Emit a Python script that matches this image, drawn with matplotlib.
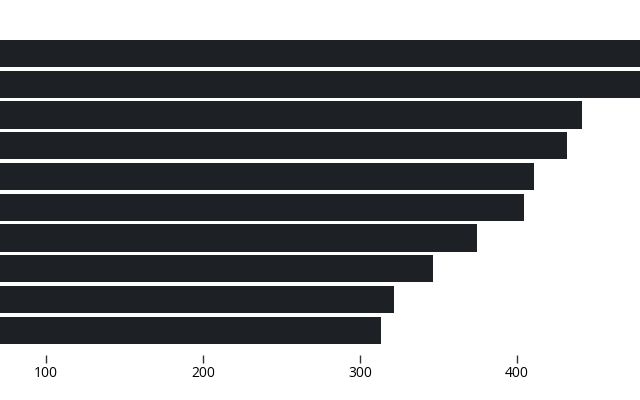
import matplotlib
matplotlib.use("Agg")
import matplotlib.pyplot as plt

categories = ["A", "B", "C", "D", "E", "F", "G", "H", "I", "J"]
values = [500, 490, 441.5, 431.5, 410.5, 404.5, 374.5, 346.5, 321.5, 313.5]
tick_values = [100, 200, 300, 400]
tick_labels = ["100", "200", "300", "400"]

plt.rcParams['font.family'] = ['Open Sans', 'DejaVu Sans']

fig = plt.figure(figsize=(6.4, 4.0), dpi=100)
ax = fig.add_axes([0, 0.1358, 1, 0.769])

ypos = list(range(len(categories)))
ax.barh(ypos, values, height=0.885, color='#1d2025', edgecolor='none')
ax.set_ylim(len(categories) - 0.5, -0.5)
ax.set_xlim(70.7, 478.3)

ax.set_yticks([])
ax.set_xticks(tick_values)
ax.set_xticklabels(tick_labels, fontsize=10, color='#222222')
ax.tick_params(axis='x', length=6, width=1, color='#333333', pad=1.5, direction='out')
for s in ['top', 'right', 'left']:
    ax.spines[s].set_visible(False)
ax.spines['bottom'].set_position(('outward', 7))
ax.spines['bottom'].set_visible(False)

fig.savefig("out.png", dpi=100)
